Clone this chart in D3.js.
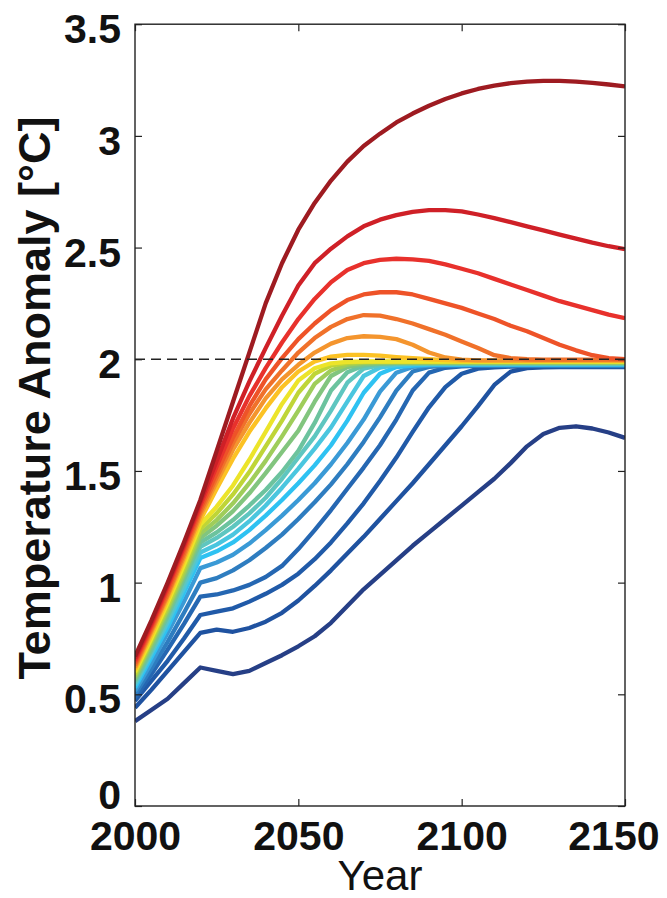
<!DOCTYPE html>
<html>
<head>
<meta charset="utf-8">
<script src="https://cdn.jsdelivr.net/npm/d3@7"></script>
<style>
  body { margin: 0; background: #fff; }
  svg { display: block; }
</style>
</head>
<body>
<svg id="chart" width="667" height="898"></svg>
<script>
// Years sampled every five years
const years = [2000,2005,2010,2015,2020,2025,2030,2035,2040,2045,2050,2055,2060,2065,2070,2075,2080,2085,2090,2095,2100,2105,2110,2115,2120,2125,2130,2135,2140,2145,2150];

// Temperature anomaly pathways (°C), warmest first
const s01 = [0.67,0.83,1.00,1.18,1.37,1.59,1.81,2.03,2.25,2.43,2.58,2.70,2.80,2.885,2.955,3.01,3.06,3.10,3.135,3.165,3.19,3.21,3.225,3.236,3.243,3.246,3.246,3.243,3.237,3.23,3.222];
const s02 = [0.66,0.82,0.99,1.17,1.36,1.545,1.735,1.90,2.05,2.195,2.33,2.43,2.495,2.55,2.595,2.625,2.645,2.66,2.668,2.668,2.662,2.648,2.632,2.614,2.595,2.577,2.558,2.54,2.522,2.506,2.493];
const s03 = [0.65,0.81,0.98,1.16,1.345,1.52,1.69,1.835,1.96,2.075,2.18,2.27,2.345,2.40,2.43,2.445,2.45,2.447,2.44,2.425,2.405,2.385,2.36,2.335,2.31,2.285,2.26,2.24,2.22,2.20,2.184];
const s04 = [0.64,0.80,0.965,1.145,1.33,1.49,1.65,1.79,1.91,2.005,2.09,2.16,2.22,2.265,2.29,2.30,2.30,2.29,2.27,2.25,2.23,2.205,2.18,2.15,2.125,2.095,2.065,2.04,2.018,2.005,2.0];
const s05 = [0.63,0.79,0.95,1.13,1.315,1.47,1.625,1.755,1.865,1.95,2.03,2.095,2.145,2.18,2.198,2.195,2.18,2.16,2.135,2.11,2.08,2.05,2.018,2.005,2.0,1.998,1.998,1.998,1.998,1.998,1.998];
const s06 = [0.62,0.78,0.94,1.115,1.30,1.45,1.595,1.715,1.825,1.91,1.975,2.03,2.07,2.095,2.103,2.10,2.09,2.065,2.03,2.008,1.998,1.995,1.995,1.995,1.995,1.995,1.995,1.995,1.995,1.995,1.995];
const s07 = [0.61,0.765,0.925,1.10,1.28,1.42,1.555,1.675,1.78,1.875,1.945,1.99,2.012,2.02,2.02,2.016,2.01,2.005,2.0,1.996,1.993,1.993,1.993,1.993,1.993,1.993,1.993,1.993,1.993,1.993,1.993];
const s08 = [0.60,0.75,0.91,1.08,1.26,1.34,1.435,1.55,1.675,1.80,1.905,1.96,1.982,1.988,1.99,1.99,1.99,1.99,1.99,1.99,1.99,1.99,1.99,1.99,1.99,1.99,1.99,1.99,1.99,1.99,1.99];
const s09 = [0.59,0.74,0.895,1.065,1.24,1.31,1.395,1.495,1.61,1.725,1.85,1.935,1.972,1.984,1.988,1.988,1.988,1.988,1.988,1.988,1.988,1.988,1.988,1.988,1.988,1.988,1.988,1.988,1.988,1.988,1.988];
const s10 = [0.58,0.73,0.88,1.045,1.22,1.28,1.355,1.445,1.545,1.655,1.77,1.89,1.95,1.976,1.984,1.986,1.986,1.986,1.986,1.986,1.986,1.986,1.986,1.986,1.986,1.986,1.986,1.986,1.986,1.986,1.986];
const s11 = [0.57,0.715,0.866,1.03,1.20,1.255,1.32,1.40,1.49,1.585,1.68,1.81,1.925,1.965,1.978,1.982,1.984,1.984,1.984,1.984,1.984,1.984,1.984,1.984,1.984,1.984,1.984,1.984,1.984,1.984,1.984];
const s12 = [0.56,0.70,0.85,1.015,1.18,1.225,1.28,1.345,1.415,1.495,1.59,1.715,1.86,1.942,1.972,1.979,1.982,1.982,1.982,1.982,1.982,1.982,1.982,1.982,1.982,1.982,1.982,1.982,1.982,1.982,1.982];
const s13 = [0.55,0.69,0.835,0.995,1.16,1.20,1.25,1.31,1.38,1.465,1.56,1.655,1.77,1.895,1.958,1.974,1.978,1.98,1.98,1.98,1.98,1.98,1.98,1.98,1.98,1.98,1.98,1.98,1.98,1.98,1.98];
const s14 = [0.54,0.68,0.82,0.975,1.135,1.17,1.215,1.275,1.345,1.425,1.51,1.60,1.695,1.81,1.925,1.963,1.974,1.978,1.978,1.978,1.978,1.978,1.978,1.978,1.978,1.978,1.978,1.978,1.978,1.978,1.978];
const s15 = [0.53,0.665,0.80,0.955,1.11,1.14,1.18,1.235,1.30,1.37,1.445,1.525,1.615,1.725,1.85,1.935,1.965,1.972,1.976,1.976,1.976,1.976,1.976,1.976,1.976,1.976,1.976,1.976,1.976,1.976,1.976];
const s16 = [0.515,0.64,0.775,0.915,1.065,1.09,1.125,1.175,1.235,1.30,1.37,1.445,1.53,1.625,1.73,1.855,1.94,1.966,1.972,1.974,1.974,1.974,1.974,1.974,1.974,1.974,1.974,1.974,1.974,1.974,1.974];
const s17 = [0.50,0.615,0.735,0.865,1.00,1.02,1.055,1.10,1.155,1.215,1.285,1.36,1.44,1.53,1.63,1.74,1.86,1.945,1.966,1.97,1.972,1.972,1.972,1.972,1.972,1.972,1.972,1.972,1.972,1.972,1.972];
const s18 = [0.485,0.59,0.70,0.815,0.937,0.947,0.965,0.99,1.025,1.075,1.15,1.235,1.325,1.42,1.515,1.615,1.73,1.86,1.94,1.962,1.968,1.97,1.97,1.97,1.97,1.97,1.97,1.97,1.97,1.97,1.97];
const s19 = [0.47,0.56,0.65,0.75,0.855,0.87,0.885,0.915,0.95,0.99,1.04,1.105,1.18,1.265,1.355,1.455,1.56,1.675,1.785,1.875,1.935,1.958,1.964,1.967,1.967,1.967,1.967,1.967,1.967,1.967,1.967];
const s20 = [0.44,0.52,0.605,0.69,0.775,0.79,0.78,0.797,0.825,0.865,0.92,0.985,1.055,1.13,1.205,1.285,1.365,1.445,1.53,1.615,1.70,1.79,1.885,1.945,1.96,1.964,1.965,1.965,1.965,1.965,1.965];
const s21 = [0.38,0.43,0.48,0.55,0.62,0.605,0.59,0.605,0.64,0.675,0.715,0.76,0.82,0.895,0.97,1.035,1.10,1.165,1.225,1.285,1.345,1.405,1.465,1.535,1.61,1.665,1.693,1.70,1.69,1.672,1.648];

const pathways = [s01,s02,s03,s04,s05,s06,s07,s08,s09,s10,s11,s12,s13,s14,s15,s16,s17,s18,s19,s20,s21];
const colors = ["#9e1b21","#cf2027","#e8312c","#ee5328","#f0712a","#f4952e","#fcc224",
                "#ece42a","#bfd537","#9fcd5a","#82c57e","#6cc39e","#5ec6c0","#4ac6df",
                "#2ec2f2","#3a9ad6","#2e7dc0","#2567b2","#205aa8","#1f52a0","#263f86"];

const target = 2;                       // stabilisation level, dashed
const xTicks = [2000,2050,2100,2150];
const yTicks = [0,0.5,1,1.5,2,2.5,3,3.5];
const yTickLabels = ["0","0.5","1","1.5","2","2.5","3","3.5"];

const L = 135, R = 625, T = 24.2, B = 806;
const svg = d3.select("#chart");
const x = d3.scaleLinear().domain([2000, 2150]).range([L, R]);
const y = d3.scaleLinear().domain([0, 3.5]).range([B, T]);
const font = "'Liberation Sans', Arial, Helvetica, sans-serif";

svg.append("defs").append("clipPath").attr("id", "plotClip")
  .append("rect").attr("x", L).attr("y", T).attr("width", R - L).attr("height", B - T);

const line = d3.line().x((d, i) => x(years[i])).y(d => y(d));

// coolest pathway first so the warm ones sit on top
const g = svg.append("g").attr("clip-path", "url(#plotClip)");
for (let k = pathways.length - 1; k >= 0; k--) {
  g.append("path")
    .attr("d", line(pathways[k]))
    .attr("fill", "none")
    .attr("stroke", colors[k])
    .attr("stroke-width", 4.3)
    .attr("stroke-linejoin", "round");
}

// 2 °C reference
svg.append("line")
  .attr("x1", x(2000)).attr("x2", x(2150))
  .attr("y1", y(target)).attr("y2", y(target))
  .attr("stroke", "#222").attr("stroke-width", 1.3)
  .attr("stroke-dasharray", "10,6");

// axes with inward ticks on all four sides
const tickLen = 7;
const left = svg.append("g").attr("transform", `translate(${L},0)`)
  .call(d3.axisLeft(y).tickValues(yTicks).tickFormat((d, i) => yTickLabels[i])
        .tickSizeInner(-tickLen).tickSizeOuter(0).tickPadding(14));
left.selectAll("text")
  .attr("dy", d => d === 0 ? 2 : 18.5)
  .style("font-family", font).style("font-weight", "bold")
  .style("font-size", "41px").attr("fill", "#111");

svg.append("g").attr("transform", `translate(${R},0)`)
  .call(d3.axisRight(y).tickValues(yTicks).tickFormat("")
        .tickSizeInner(-tickLen).tickSizeOuter(0));

svg.append("g").attr("transform", `translate(0,${T})`)
  .call(d3.axisTop(x).tickValues(xTicks).tickFormat("")
        .tickSizeInner(-tickLen).tickSizeOuter(0));

const bottom = svg.append("g").attr("transform", `translate(0,${B})`)
  .call(d3.axisBottom(x).tickValues(xTicks).tickFormat(d3.format("d"))
        .tickSizeInner(-tickLen).tickSizeOuter(0));
bottom.selectAll("text")
  .attr("y", 44).attr("dy", 0)
  .attr("text-anchor", d => d === 2150 ? "end" : "middle")
  .attr("x", d => d === 2150 ? 34 : 0)
  .style("font-family", font).style("font-weight", "bold")
  .style("font-size", "41px").attr("fill", "#111");

svg.selectAll(".domain").remove();
svg.selectAll(".tick line").attr("stroke", "#222").attr("stroke-width", 1.2);

// frame
svg.append("rect")
  .attr("x", L).attr("y", T).attr("width", R - L).attr("height", B - T)
  .attr("fill", "none").attr("stroke", "#222").attr("stroke-width", 1.4);

// axis titles
svg.append("text")
  .attr("x", (L + R) / 2).attr("y", 890)
  .attr("text-anchor", "middle")
  .style("font-family", font).style("font-size", "42px").attr("fill", "#111")
  .text("Year");

svg.append("text")
  .attr("transform", "translate(50,398) rotate(-90)")
  .attr("text-anchor", "middle")
  .style("font-family", font).style("font-weight", "bold")
  .style("font-size", "45px").attr("fill", "#111")
  .text("Temperature Anomaly [°C]");
</script>
</body>
</html>
